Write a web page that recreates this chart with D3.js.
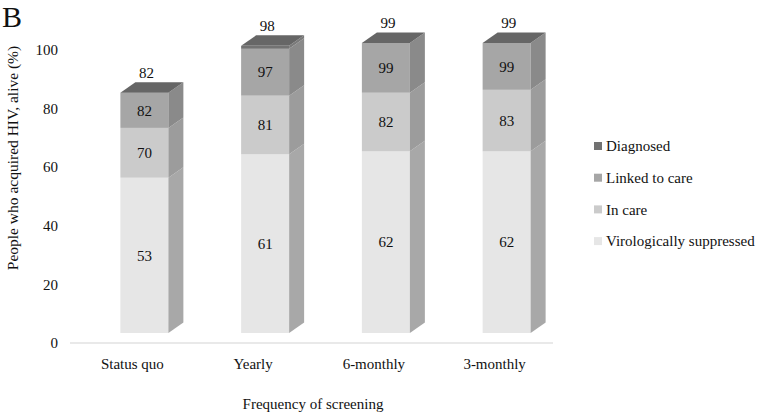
<!DOCTYPE html>
<html>
<head>
<meta charset="utf-8">
<script src="https://cdn.jsdelivr.net/npm/d3@7"></script>
<style>
body{margin:0;background:#fff;}
svg text{font-family:"Liberation Serif","Times New Roman",serif;fill:#111;}
</style>
</head>
<body>
<div id="chart"></div>
<script>
// values, cumulative cascade
let categories= ["Status quo","Yearly","6-monthly","3-monthly"];
let diagnosed= [82,98,99,99];
let linked= [82,97,99,99];
let inCare= [70,81,82,83];
let suppressed= [53,61,62,62];
let seriesNames= ["Diagnosed","Linked to care","In care","Virologically suppressed"];
let yTicks= [0,20,40,60,80,100];

let width= 760, height= 415;
let depthX= 15, depthY= 10.5;
let frontW= 48;

let chart= d3.select("#chart").append("svg")
.attr("width",width).attr("height",height);

let x= d3.scaleBand().domain(categories).range([70,553]);
let y= d3.scaleLinear().domain([0,100]).range([343,50]);

// colours: front, side
let colors= {
  "Diagnosed": {front:"#727272",side:"#7a7a7a",top:"#666666"},
  "Linked to care": {front:"#a6a6a6",side:"#8a8a8a"},
  "In care": {front:"#cbcbcb",side:"#9c9c9c"},
  "Virologically suppressed": {front:"#e6e6e6",side:"#a8a8a8"}
};

// floor line
chart.append("line")
.attr("x1",70).attr("x2",553).attr("y1",y(0)).attr("y2",y(0))
.attr("stroke","#e2e2e2").attr("stroke-width",1.5);

// y tick labels
chart.append("g").selectAll("text").data(yTicks).enter().append("text")
.attr("x",58).attr("y",d=>y(d)).attr("dy","0.35em")
.attr("text-anchor","end").style("font-size","15px")
.text(d=>d);

let bars= categories.map((c,i)=>{
  let segs= [
    {name:"Virologically suppressed",lo:0,hi:suppressed[i],label:suppressed[i]},
    {name:"In care",lo:suppressed[i],hi:inCare[i],label:inCare[i]},
    {name:"Linked to care",lo:inCare[i],hi:linked[i],label:linked[i]},
    {name:"Diagnosed",lo:linked[i],hi:diagnosed[i],label:diagnosed[i]}
  ];
  return {cat:c,segs:segs,top:diagnosed[i]};
});

let g= chart.append("g");
bars.forEach(b=>{
  let x0= x(b.cat)+x.bandwidth()/2+14-frontW/2;
  let x1= x0+frontW;
  let fy= v=> y(v)-10;
  b.segs.forEach(s=>{
    let yt= fy(s.hi), yb= fy(s.lo);
    g.append("rect").attr("x",x0).attr("y",yt).attr("width",frontW)
    .attr("height",Math.max(0,yb-yt)).attr("fill",colors[s.name].front);
    g.append("path")
    .attr("d",`M${x1},${yt}L${x1+depthX},${yt-depthY}L${x1+depthX},${yb-depthY}L${x1},${yb}Z`)
    .attr("fill",colors[s.name].side);
  });
  let yt= fy(b.top);
  g.append("path")
  .attr("d",`M${x0},${yt}L${x0+depthX},${yt-depthY}L${x1+depthX},${yt-depthY}L${x1},${yt}Z`)
  .attr("fill",colors["Diagnosed"].top);
  // labels inside segments (not diagnosed)
  b.segs.slice(0,3).forEach(s=>{
    g.append("text").attr("x",(x0+x1)/2).attr("y",(fy(s.hi)+fy(s.lo))/2)
    .attr("dy","0.35em").attr("text-anchor","middle").style("font-size","15px")
    .text(s.label);
  });
  g.append("text").attr("x",(x0+x1)/2+2).attr("y",yt-depthY-4)
  .attr("text-anchor","middle").style("font-size","15px")
  .text(b.segs[3].label);
});

// category labels
chart.append("g").selectAll("text").data(categories).enter().append("text")
.attr("x",d=>x(d)+x.bandwidth()/2+2).attr("y",364)
.attr("dy","0.35em").attr("text-anchor","middle").style("font-size","15px")
.text(d=>d);

// axis titles
chart.append("text").attr("x",313).attr("y",404).attr("dy","0.35em")
.attr("text-anchor","middle").style("font-size","15px")
.text("Frequency of screening");
chart.append("text")
.attr("transform","translate(13,158) rotate(-90)")
.attr("dy","0.35em").attr("text-anchor","middle").style("font-size","15.5px")
.text("People who acquired HIV, alive (%)");

chart.append("text").attr("x",2).attr("y",27).style("font-size","30px").text("B");

// legend
let legend= chart.append("g").selectAll("g").data(seriesNames).enter().append("g")
.attr("transform",(d,i)=>`translate(594,${146+i*31.7})`);
legend.append("rect").attr("x",0).attr("y",-4).attr("width",8).attr("height",8)
.attr("fill",d=>colors[d].front);
legend.append("text").attr("x",12).attr("dy","0.35em").style("font-size","15px")
.text(d=>d);
</script>
</body>
</html>
